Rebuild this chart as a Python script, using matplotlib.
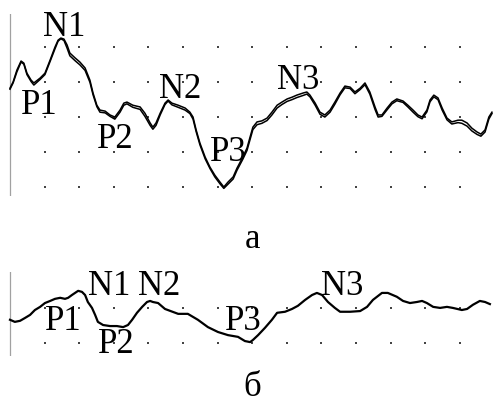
import matplotlib.pyplot as plt

# Evoked responses; time and amplitude both in grid divisions
t_a = [0.00, 0.09, 0.20, 0.32, 0.40, 0.49, 0.61, 0.69, 0.87, 1.01, 1.16, 1.30, 1.39, 1.47,
       1.56, 1.65, 1.73, 1.88, 2.02, 2.17, 2.31, 2.40, 2.51, 2.60, 2.75, 2.89, 3.03, 3.18,
       3.29, 3.38, 3.55, 3.76, 3.90, 4.05, 4.13, 4.22, 4.34, 4.48, 4.57, 4.68, 4.86, 5.06,
       5.20, 5.29, 5.38, 5.49, 5.64, 5.78, 5.92, 6.07, 6.18, 6.30, 6.45, 6.56, 6.73, 6.85,
       6.94, 7.02, 7.14, 7.28, 7.43, 7.57, 7.72, 7.86, 8.01, 8.15, 8.29, 8.47, 8.58, 8.67,
       8.82, 8.96, 9.10, 9.25, 9.39, 9.54, 9.68, 9.83, 9.97, 10.12, 10.26, 10.40, 10.55,
       10.64, 10.75, 10.90, 11.04, 11.18, 11.36, 11.50, 11.65, 11.79, 11.91, 12.05, 12.14,
       12.25, 12.37, 12.49, 12.63, 12.77, 12.95, 13.06, 13.21, 13.35, 13.50, 13.61, 13.73,
       13.84, 13.93]
u_a1 = [0.83, 1.01, 1.35, 1.61, 1.55, 1.26, 1.06, 0.98, 1.12, 1.26, 1.64, 2.01, 2.21, 2.27,
        2.24, 2.07, 1.84, 1.70, 1.58, 1.41, 1.06, 0.69, 0.34, 0.20, 0.17, 0.06, 0.00, 0.20,
        0.40, 0.43, 0.34, 0.29, 0.11, -0.17, -0.29, -0.17, 0.11, 0.40, 0.49, 0.40, 0.34, 0.26,
        0.14, 0.00, -0.37, -0.75, -1.15, -1.44, -1.67, -1.87, -2.01, -1.87, -1.72, -1.47,
        -1.15, -0.89, -0.57, -0.29, -0.14, -0.11, -0.03, 0.14, 0.34, 0.43, 0.52, 0.57, 0.63,
        0.69, 0.72, 0.63, 0.40, 0.14, 0.06, 0.20, 0.43, 0.69, 0.89, 0.86, 0.72, 0.83, 0.98,
        0.72, 0.29, 0.06, 0.06, 0.26, 0.43, 0.52, 0.46, 0.34, 0.20, 0.06, 0.00, 0.20, 0.49,
        0.63, 0.55, 0.26, -0.03, -0.14, -0.09, -0.09, -0.17, -0.32, -0.43, -0.49, -0.37,
        0.00, 0.14]
u_a2 = [0.80, 0.98, 1.30, 1.58, 1.52, 1.22, 1.02, 0.92, 1.08, 1.22, 1.60, 1.96, 2.18, 2.25,
        2.20, 1.98, 1.76, 1.62, 1.50, 1.34, 1.00, 0.64, 0.30, 0.14, 0.12, 0.02, -0.06, 0.14,
        0.34, 0.38, 0.28, 0.22, 0.02, -0.24, -0.35, -0.24, 0.06, 0.36, 0.46, 0.35, 0.28, 0.20,
        0.10, -0.06, -0.42, -0.80, -1.20, -1.48, -1.72, -1.92, -2.05, -1.93, -1.78, -1.53,
        -1.21, -0.96, -0.64, -0.36, -0.22, -0.18, -0.10, 0.06, 0.26, 0.36, 0.45, 0.50, 0.56,
        0.62, 0.66, 0.58, 0.34, 0.08, 0.00, 0.14, 0.37, 0.64, 0.84, 0.82, 0.67, 0.79, 0.93,
        0.66, 0.22, 0.00, 0.02, 0.21, 0.38, 0.47, 0.42, 0.29, 0.14, 0.01, -0.05, 0.15, 0.44,
        0.58, 0.50, 0.20, -0.08, -0.20, -0.16, -0.18, -0.26, -0.40, -0.50, -0.55, -0.43,
        -0.06, 0.10]

t_b = [0.00, 0.14, 0.29, 0.43, 0.58, 0.72, 0.87, 1.01, 1.16, 1.30, 1.45, 1.59, 1.68, 1.79,
       1.88, 1.97, 2.08, 2.17, 2.25, 2.37, 2.46, 2.54, 2.69, 2.89, 3.09, 3.27, 3.41, 3.53,
       3.67, 3.82, 3.96, 4.05, 4.13, 4.28, 4.48, 4.86, 5.14, 5.43, 5.72, 6.01, 6.30, 6.59,
       6.79, 6.94, 7.02, 7.17, 7.37, 7.57, 7.72, 7.95, 8.15, 8.32, 8.53, 8.73, 8.87, 9.02,
       9.19, 9.39, 9.54, 9.83, 10.12, 10.32, 10.49, 10.75, 10.92, 11.18, 11.36, 11.56, 11.76,
       11.91, 12.05, 12.23, 12.43, 12.63, 12.80, 13.06, 13.21, 13.38, 13.58, 13.73, 13.87]
u_b = [-0.34, -0.40, -0.37, -0.29, -0.20, -0.06, 0.03, 0.14, 0.20, 0.26, 0.29, 0.26, 0.29,
       0.37, 0.43, 0.49, 0.46, 0.37, 0.17, 0.00, -0.20, -0.40, -0.49, -0.52, -0.52, -0.55,
       -0.49, -0.34, -0.14, 0.03, 0.17, 0.20, 0.17, 0.14, -0.03, -0.17, -0.17, -0.34, -0.55,
       -0.69, -0.78, -0.83, -0.95, -0.98, -0.92, -0.78, -0.57, -0.34, -0.14, -0.11, -0.03,
       0.06, 0.23, 0.37, 0.43, 0.37, 0.17, 0.00, -0.11, -0.11, -0.09, 0.03, 0.23, 0.43, 0.43,
       0.32, 0.20, 0.14, 0.17, 0.20, 0.14, 0.03, 0.00, 0.03, 0.00, -0.06, -0.03, 0.09, 0.20,
       0.17, 0.11]

names_a = ["N1", "P1", "P2", "N2", "P3", "N3"]
names_b = ["N1", "N2", "P1", "P2", "P3", "N3"]

plt.rcParams['font.family'] = 'serif'
plt.rcParams['font.serif'] = ['Liberation Serif', 'Times New Roman', 'DejaVu Serif']

W, H = 493, 403
fig = plt.figure(figsize=(W / 100, H / 100), dpi=100)

ax_a = fig.add_axes([10 / W, 1 - 195 / H, 483 / W, 182 / H])
ax_b = fig.add_axes([10 / W, 1 - 355 / H, 483 / W, 83 / H])
ax_a.set_xlim(0, 13.96)
ax_a.set_ylim(-2.24, 2.99)
ax_b.set_xlim(0, 13.96)
ax_b.set_ylim(-1.35, 1.03)


def draw_grid(ax, rows):
    ax.axis('off')
    ax.axvline(0, color='#444444', lw=0.9, ls=(0, (0.8, 0.8)), clip_on=False)
    xs = [x for x in range(1, 14) for _ in rows]
    ys = [y for _ in range(1, 14) for y in rows]
    ax.scatter(xs, ys, s=1.4, marker='s', color='#444444', linewidths=0, zorder=1)


draw_grid(ax_a, [2, 1, 0, -1, -2])
draw_grid(ax_b, [0, -1])

ax_a.plot(t_a, u_a1, color='black', lw=1.1, clip_on=False, zorder=3)
ax_a.plot(t_a, u_a2, color='black', lw=1.1, clip_on=False, zorder=3)
ax_b.plot(t_b, u_b, color='black', lw=1.6, clip_on=False, zorder=3)

fs = 25
pos_a = [(0.95, 2.33), (0.32, 0.09), (2.51, -0.89), (4.31, 0.55), (5.78, -1.26), (7.72, 0.80)]
for name, (x, y) in zip(names_a, pos_a):
    ax_a.text(x, y, name, fontsize=fs, ha='left', va='baseline', zorder=4, clip_on=False)

pos_b = [(2.25, 0.37), (3.70, 0.37), (1.01, -0.63), (2.54, -1.29), (6.21, -0.63), (8.99, 0.37)]
for name, (x, y) in zip(names_b, pos_b):
    ax_b.text(x, y, name, fontsize=fs, ha='left', va='baseline', zorder=4, clip_on=False)

fig.text(252 / W, 1 - 248 / H, "а", fontsize=fs, ha='center', va='baseline')
fig.text(252 / W, 1 - 396 / H, "б", fontsize=fs, ha='center', va='baseline')

fig.savefig('out.png', dpi=100, facecolor='white')
